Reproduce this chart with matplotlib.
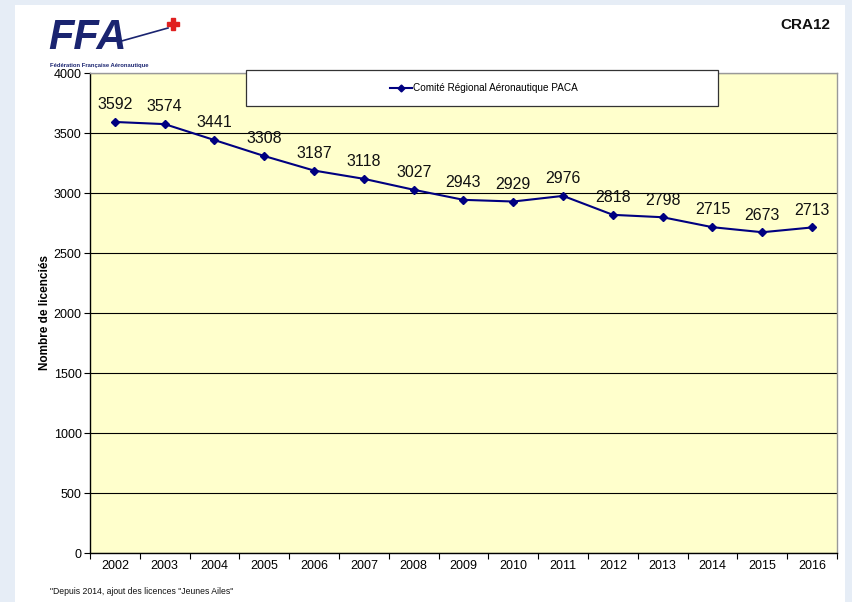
import matplotlib
matplotlib.use('Agg')
import matplotlib.pyplot as plt
from matplotlib.patches import Rectangle
from matplotlib.lines import Line2D

years = ['2002', '2003', '2004', '2005', '2006', '2007', '2008', '2009',
         '2010', '2011', '2012', '2013', '2014', '2015', '2016']
licences = [3592, 3574, 3441, 3308, 3187, 3118, 3027, 2943,
            2929, 2976, 2818, 2798, 2715, 2673, 2713]
series_name = 'Comité Régional Aéronautique PACA'
y_ticks = [0, 500, 1000, 1500, 2000, 2500, 3000, 3500, 4000]

plt.rcParams['font.family'] = ['Liberation Sans', 'DejaVu Sans']

W, H = 853, 602
fig = plt.figure(figsize=(W / 100, H / 100), dpi=100)
fig.patch.set_facecolor('#e6edf6')
# white page behind everything
fig.patches.append(Rectangle((15 / W, 0), (845 - 15) / W, 1 - 5 / H,
                             transform=fig.transFigure, facecolor='white',
                             edgecolor='none', zorder=-1))

ax = fig.add_axes([90 / W, 1 - 553 / H, (837 - 90) / W, (553 - 73) / H])
ax.set_zorder(1)
ax.set_facecolor('#ffffcc')

x = list(range(len(years)))
ax.plot(x, licences, color='#000080', lw=1.5, marker='D', ms=4.5,
        markerfacecolor='#000080', markeredgecolor='#000080', zorder=3)
for xi, v in zip(x, licences):
    ax.annotate(str(v), (xi, v), xytext=(0, 7), textcoords='offset points',
                ha='center', va='bottom', fontsize=11.5, color='#111111')

ax.set_xlim(-0.5, len(years) - 0.5)
ax.set_ylim(0, 4000)
ax.set_yticks(y_ticks)
ax.set_yticklabels([str(t) for t in y_ticks], fontsize=9)
ax.yaxis.grid(True, color='black', lw=0.8)
ax.set_axisbelow(True)

# ticks between categories, labels centred
ax.set_xticks([i - 0.5 for i in range(len(years) + 1)])
ax.set_xticklabels([])
ax.set_xticks(x, minor=True)
ax.set_xticklabels(years, minor=True, fontsize=9)
ax.tick_params(axis='x', which='major', length=4, direction='out', color='black')
ax.tick_params(axis='x', which='minor', length=0, pad=5)
ax.tick_params(axis='y', length=4, direction='out', pad=2)

ax.set_ylabel('Nombre de licenciés', fontsize=8.5, fontweight='bold', labelpad=2)

for s in ['left', 'bottom']:
    ax.spines[s].set_color('black')
    ax.spines[s].set_linewidth(1.0)
for s in ['top', 'right']:
    ax.spines[s].set_color('#999999')
    ax.spines[s].set_linewidth(1.0)

# legend box
fig.patches.append(Rectangle((246 / W, 1 - 106 / H), (718 - 246) / W, 36 / H,
                             transform=fig.transFigure, facecolor='white',
                             edgecolor='#333333', lw=0.9, zorder=5))
handle = Line2D([], [], color='#000080', lw=1.5, marker='D', ms=3.5)
leg = fig.legend([handle], [series_name], loc='center',
                 bbox_to_anchor=(484 / W, 1 - 88 / H), frameon=False,
                 fontsize=7.2, handlelength=2.2, handletextpad=0.15)
leg.set_zorder(6)

# title and footnote
fig.text(805 / W, 1 - 25 / H, 'CRA12', ha='center', va='center',
         fontsize=11, fontweight='bold', color='#111111')
fig.text(50 / W, 1 - 591 / H, '"Depuis 2014, ajout des licences "Jeunes Ailes"',
         ha='left', va='center', fontsize=6.2, color='#111111')

# logo
fig.text(48 / W, 1 - 38 / H, 'FFA', ha='left', va='center', fontsize=30,
         fontweight='bold', fontstyle='italic', color='#1a2470')
fig.lines.append(Line2D([118 / W, 168 / W], [1 - 42 / H, 1 - 28 / H],
                        transform=fig.transFigure, color='#1a2470', lw=1.2))
fig.lines.append(Line2D([173 / W], [1 - 24 / H], transform=fig.transFigure,
                        marker='P', ms=9, color='#e02020', lw=0))
fig.text(50 / W, 1 - 66 / H, 'Fédération Française Aéronautique', ha='left',
         va='center', fontsize=4.2, fontweight='bold', color='#1a2470')

fig.savefig('out.png', dpi=100, facecolor=fig.get_facecolor())
